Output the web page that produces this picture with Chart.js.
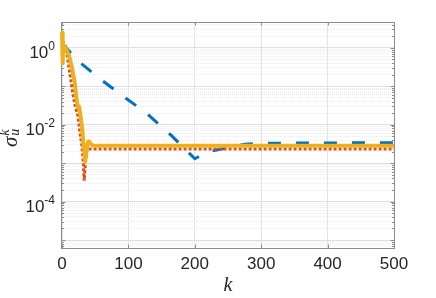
<!DOCTYPE html>
<html>
<head>
<meta charset="utf-8">
<script src="https://cdn.jsdelivr.net/npm/chart.js@4.4.0/dist/chart.umd.min.js"></script>
<style>
  html, body { margin: 0; padding: 0; background: #fff; }
</style>
</head>
<body>
<canvas id="sigmaChart" width="436" height="298"></canvas>
<script>
// values
const blueK = [0, 26, 60, 94, 128, 165, 200, 220, 250, 275, 300, 500];
const blueSigma = [1.3, 0.43, 0.143, 0.052, 0.0195, 5.2e-3, 1.3e-3, 2.0e-3, 2.5e-3, 3.1e-3, 3.3e-3, 3.4e-3];

const redK = [0, 4, 7, 11, 16, 20, 24, 27, 30, 32, 33.5, 35, 37, 40, 500];
const redSigma = [1.5, 1.3, 0.8, 0.27, 0.068, 0.03, 0.017, 6.3e-3, 2.8e-3, 1.1e-3, 3.5e-4, 9e-4, 2e-3, 2.35e-3, 2.35e-3];

const yellowK = [0, 1, 2, 5, 8, 11, 15, 19, 22, 24, 25.5, 27, 30, 33, 35, 38, 40, 43, 46, 500];
const yellowSigma = [2.5, 0.4, 1.15, 1.0, 0.8, 0.6, 0.3, 0.13, 0.045, 0.028, 0.03, 0.022, 9e-3, 2.5e-3, 1.1e-3, 3e-3, 3.7e-3, 3.3e-3, 2.85e-3, 2.85e-3];

const xTicks = [0, 100, 200, 300, 400, 500];
const yTickExponents = [0, -2, -4];
const yMin = 6.2e-6;
const yMax = 4.7;

function toPoints(ks, vals) {
  return ks.map((k, i) => ({ x: k, y: vals[i] }));
}

function isDecade(v) {
  const l = Math.log10(v);
  return Math.abs(l - Math.round(l)) < 1e-9;
}

Chart.defaults.font.family = "'Liberation Sans', Arial, sans-serif";

// box, inward tick marks, y tick labels with exponents, y axis label
const axesDecor = {
  id: "axesDecor",
  beforeDatasetsDraw(chart) {
    const { ctx, chartArea: a, scales } = chart;
    ctx.save();
    ctx.strokeStyle = "#8c8c8c";
    ctx.lineWidth = 1;
    ctx.strokeRect(a.left - 0.5, a.top + 0.5, a.right - a.left + 1, a.bottom - a.top);

    ctx.beginPath();
    xTicks.forEach((t) => {
      const x = Math.round(scales.x.getPixelForValue(t)) + 0.5;
      ctx.moveTo(x, a.bottom);
      ctx.lineTo(x, a.bottom - 3.5);
      ctx.moveTo(x, a.top);
      ctx.lineTo(x, a.top + 3.5);
    });
    scales.y.ticks.forEach((t) => {
      const y = Math.round(scales.y.getPixelForValue(t.value)) + 0.5;
      const len = isDecade(t.value) ? 3.5 : 2;
      ctx.moveTo(a.left, y);
      ctx.lineTo(a.left + len, y);
      ctx.moveTo(a.right, y);
      ctx.lineTo(a.right - len, y);
    });
    ctx.stroke();
    ctx.restore();
  },
  afterDraw(chart) {
    const { ctx, chartArea: a, scales } = chart;
    ctx.save();
    ctx.fillStyle = "#262626";
    ctx.textBaseline = "alphabetic";
    yTickExponents.forEach((e) => {
      const y = scales.y.getPixelForValue(Math.pow(10, e));
      const expText = e === 0 ? "0" : "-" + Math.abs(e);
      ctx.font = "12px 'Liberation Sans', Arial, sans-serif";
      const ew = ctx.measureText(expText).width;
      ctx.font = "17px 'Liberation Sans', Arial, sans-serif";
      const bw = ctx.measureText("10").width;
      const right = a.left - 7;
      ctx.fillText("10", right - ew - bw, y + 10);
      ctx.font = "12px 'Liberation Sans', Arial, sans-serif";
      ctx.fillText(expText, right - ew, y + 2);
    });

    // sigma_u^k, rotated
    const cy = (a.top + a.bottom) / 2;
    ctx.translate(17, cy + 12);
    ctx.rotate(-Math.PI / 2);
    ctx.font = "italic 21px 'Liberation Serif', 'DejaVu Serif', serif";
    ctx.fillText("σ", 0, 0);
    const sw = ctx.measureText("σ").width;
    ctx.font = "italic 14px 'Liberation Serif', 'DejaVu Serif', serif";
    ctx.fillText("k", sw + 1, -8);
    ctx.fillText("u", sw + 1, 2);
    ctx.restore();
  },
};

const ctx = document.getElementById("sigmaChart");

new Chart(ctx, {
  type: "line",
  data: {
    datasets: [
      {
        label: "yellow",
        data: toPoints(yellowK, yellowSigma),
        borderColor: "#EDB120",
        borderWidth: 4,
        pointRadius: 0,
        tension: 0,
        clip: false,
        borderJoinStyle: "round",
      },
      {
        label: "red",
        data: toPoints(redK, redSigma),
        borderColor: "#D95319",
        borderWidth: 3,
        borderDash: [3, 2],
        pointRadius: 0,
        tension: 0,
        clip: false,
      },
      {
        label: "blue",
        data: toPoints(blueK, blueSigma),
        borderColor: "#0072BD",
        borderWidth: 3,
        borderDash: [13, 15],
        pointRadius: 0,
        tension: 0,
        clip: false,
      },
    ],
  },
  options: {
    responsive: false,
    animation: false,
    layout: {
      padding: { left: 0, right: 42, top: 22, bottom: 0 },
    },
    plugins: {
      legend: { display: false },
      tooltip: { enabled: false },
    },
    scales: {
      x: {
        type: "linear",
        min: 0,
        max: 500,
        afterBuildTicks: (scale) => {
          scale.ticks = xTicks.map((v) => ({ value: v }));
        },
        afterFit: (scale) => {
          scale.height = 50;
        },
        grid: {
          color: "#e3e3e3",
          drawTicks: false,
        },
        border: { display: false },
        ticks: {
          padding: 6,
          color: "#262626",
          font: { size: 17 },
          maxRotation: 0,
          autoSkip: false,
        },
        title: {
          display: true,
          text: "k",
          color: "#262626",
          font: { family: "'Liberation Serif', 'DejaVu Serif', serif", style: "italic", size: 20 },
          padding: { top: 0, bottom: 0 },
        },
      },
      y: {
        type: "logarithmic",
        min: yMin,
        max: yMax,
        afterBuildTicks: (scale) => {
          const ticks = [];
          for (let e = -6; e <= 0; e++) {
            for (let m = 1; m <= 9; m++) {
              const v = m * Math.pow(10, e);
              if (v >= yMin && v <= yMax) ticks.push({ value: v });
            }
          }
          scale.ticks = ticks;
        },
        afterFit: (scale) => {
          scale.width = 62;
        },
        grid: {
          drawTicks: false,
          color: (c) => (c.tick && isDecade(c.tick.value) ? "#e0e0e0" : "#ececec"),
        },
        border: {
          display: false,
          dash: (c) => (c.tick && isDecade(c.tick.value) ? [] : [1, 1]),
        },
        ticks: {
          display: false,
          autoSkip: false,
        },
      },
    },
  },
  plugins: [axesDecor],
});
</script>
</body>
</html>
